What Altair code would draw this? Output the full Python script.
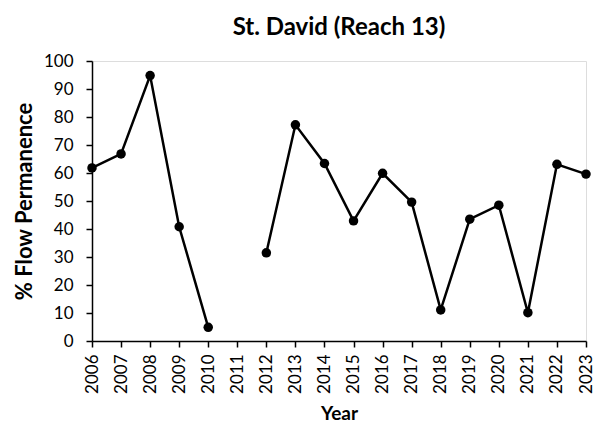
import altair as alt
import pandas as pd

years = list(range(2006, 2024))
flow = [61.8, 66.8, 94.8, 40.8, 4.9, None, 31.5, 77.2, 63.4, 42.9, 59.9, 49.6, 11.1, 43.5, 48.5, 10.1, 63.1, 59.6]

df = pd.DataFrame({"Year": years, "Flow": flow})
df["seg"] = df["Flow"].isna().cumsum()
df = df.dropna()

FONT = "Lato"

x = alt.X("Year:Q", scale=alt.Scale(domain=[2006, 2023], nice=False, zero=False),
          axis=alt.Axis(values=years, format="d", labelAngle=270, labelAlign="right",
                        labelBaseline="middle", labelFontSize=17, labelFont=FONT,
                        labelColor="#000", labelPadding=7, tickSize=6, tickColor="#000",
                        domainColor="#000", domainWidth=1.5, tickWidth=1.5, grid=False,
                        title="Year", titleFont=FONT, titleFontSize=19, titleFontWeight="bold",
                        titleColor="#000", titlePadding=11))
y = alt.Y("Flow:Q", scale=alt.Scale(domain=[0, 100], nice=False),
          axis=alt.Axis(values=list(range(0, 101, 10)), labelFontSize=17, labelFont=FONT,
                        labelColor="#000", labelPadding=13, tickSize=6, tickColor="#000",
                        domainColor="#000", domainWidth=1.5, tickWidth=1.5, grid=False,
                        title="% Flow Permanence", titleFont=FONT, titleFontSize=22,
                        titleFontWeight="bold", titleColor="#000", titlePadding=7))

base = alt.Chart(df)
line = base.mark_line(color="#000", strokeWidth=2.5).encode(x=x, y=y, detail="seg:N")
pts = base.mark_point(filled=True, color="#000", size=90, opacity=1).encode(x=x, y=y)

chart = (line + pts).properties(
    width=494, height=280,
    title=alt.TitleParams("St. David (Reach 13)", font=FONT, fontSize=24, fontWeight="bold",
                          color="#000", offset=12),
    autosize=alt.AutoSizeParams(type="none"),
    padding={"left": 84, "top": 53, "right": 10, "bottom": 83},
).configure_view(stroke="#000", strokeWidth=1.5).configure(background="white")

chart.save("out.html", embed_options={"renderer": "svg", "actions": False})
